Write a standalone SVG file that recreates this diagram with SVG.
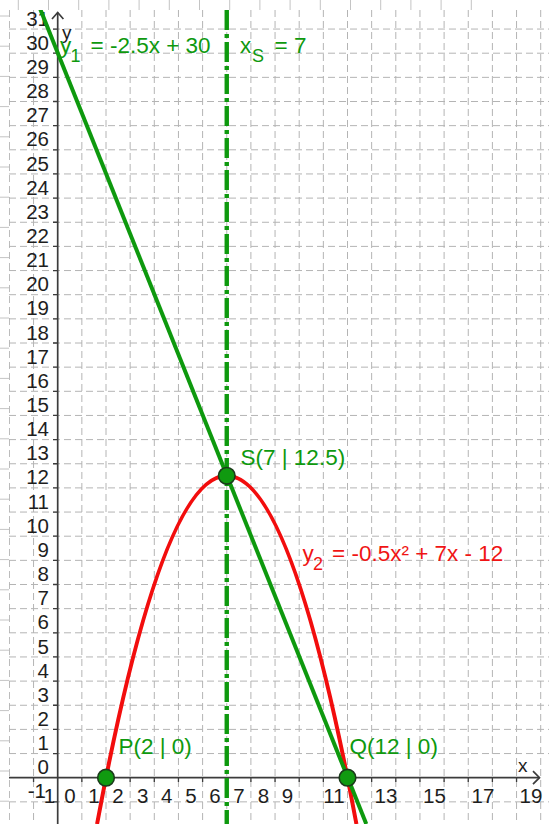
<svg xmlns="http://www.w3.org/2000/svg" width="549" height="824" viewBox="0 0 549 824">
<defs>
<style>
.bggrid{stroke:#c4c4c4;stroke-width:1;fill:none}
.grid{stroke:#b4b4b4;stroke-width:1;fill:none;stroke-dasharray:7 4}
.axis{stroke:#3c3c3c;stroke-width:1.7;fill:none}
.tick{stroke:#3c3c3c;stroke-width:1.3}
.ylab{font-family:"Liberation Sans",Arial,sans-serif;font-size:20.5px;fill:#1e1e1e;text-anchor:end}
.xlab{font-family:"Liberation Sans",Arial,sans-serif;font-size:20.5px;fill:#1e1e1e;text-anchor:middle}
.aname{font-family:"Liberation Sans",Arial,sans-serif;font-size:19px;fill:#1e1e1e}
.glab{font-family:"Liberation Sans",Arial,sans-serif;font-size:22.5px;fill:#0e990e}
.rlab{font-family:"Liberation Sans",Arial,sans-serif;font-size:22.5px;fill:#f01414}
.sub{font-size:18px}
.pt{fill:#109a10;stroke:#1b3b1b;stroke-width:1.6}
</style>
<clipPath id="area"><rect x="9" y="10" width="540" height="814"/></clipPath>
</defs>
<rect x="0" y="0" width="549" height="824" fill="#ffffff"/>
<g id="background-grid" class="bggrid">
<path d="M18.3,0V10M48.5,0V10M78.7,0V10M108.9,0V10M139.1,0V10M169.3,0V10M199.5,0V10M229.7,0V10M259.9,0V10M290.1,0V10M320.3,0V10M350.5,0V10M380.7,0V10M410.9,0V10M441.1,0V10M471.3,0V10"/>
<path d="M0,16H9M0,46.2H9M0,76.4H9M0,106.6H9M0,136.8H9M0,167H9M0,197.2H9M0,227.4H9M0,257.6H9M0,287.8H9M0,318H9M0,348.2H9M0,378.4H9M0,408.6H9M0,438.8H9M0,469H9M0,499.2H9M0,529.4H9M0,559.6H9M0,589.8H9M0,620H9M0,650.2H9M0,680.4H9M0,710.6H9M0,740.8H9M0,771H9M0,801.2H9"/>
</g>
<g id="grid" class="grid" clip-path="url(#area)">
<path d="M9.4,10V824M33.55,10V824M81.85,10V824M106,10V824M130.15,10V824M154.3,10V824M178.45,10V824M202.6,10V824M226.75,10V824M250.9,10V824M275.05,10V824M299.2,10V824M323.35,10V824M347.5,10V824M371.65,10V824M395.8,10V824M419.95,10V824M444.1,10V824M468.25,10V824M492.4,10V824M516.55,10V824M540.7,10V824"/>
<path d="M9,801.85H549M9,753.55H549M9,729.4H549M9,705.25H549M9,681.1H549M9,656.95H549M9,632.8H549M9,608.65H549M9,584.5H549M9,560.35H549M9,536.2H549M9,512.05H549M9,487.9H549M9,463.75H549M9,439.6H549M9,415.45H549M9,391.3H549M9,367.15H549M9,343H549M9,318.85H549M9,294.7H549M9,270.55H549M9,246.4H549M9,222.25H549M9,198.1H549M9,173.95H549M9,149.8H549M9,125.65H549M9,101.5H549M9,77.35H549M9,53.2H549M9,29.05H549"/>
</g>
<g id="axes">
<path class="axis" d="M9,777.7H539.5M57.7,824V12.5"/>
<path class="axis" d="M533,771.2L539.5,777.7L533,784.2M52,19L57.7,12.5L63.4,19"/>
<path class="tick" d="M33.55,777.7V782M81.85,777.7V782M106,777.7V782M130.15,777.7V782M154.3,777.7V782M178.45,777.7V782M202.6,777.7V782M226.75,777.7V782M250.9,777.7V782M275.05,777.7V782M299.2,777.7V782M323.35,777.7V782M347.5,777.7V782M371.65,777.7V782M395.8,777.7V782M419.95,777.7V782M444.1,777.7V782M468.25,777.7V782M492.4,777.7V782M516.55,777.7V782"/>
<path class="tick" d="M53,801.85H57.7M53,753.55H57.7M53,729.4H57.7M53,705.25H57.7M53,681.1H57.7M53,656.95H57.7M53,632.8H57.7M53,608.65H57.7M53,584.5H57.7M53,560.35H57.7M53,536.2H57.7M53,512.05H57.7M53,487.9H57.7M53,463.75H57.7M53,439.6H57.7M53,415.45H57.7M53,391.3H57.7M53,367.15H57.7M53,343H57.7M53,318.85H57.7M53,294.7H57.7M53,270.55H57.7M53,246.4H57.7M53,222.25H57.7M53,198.1H57.7M53,173.95H57.7M53,149.8H57.7M53,125.65H57.7M53,101.5H57.7M53,77.35H57.7M53,53.2H57.7M53,29.05H57.7"/>
</g>
<g id="y-labels" class="ylab">
<text x="49" y="25.5">31</text><text x="49" y="49.7">30</text><text x="49" y="73.9">29</text><text x="49" y="98">28</text>
<text x="49" y="122.2">27</text><text x="49" y="146.3">26</text><text x="49" y="170.5">25</text><text x="49" y="194.6">24</text>
<text x="49" y="218.8">23</text><text x="49" y="242.9">22</text><text x="49" y="267.1">21</text><text x="49" y="291.2">20</text>
<text x="49" y="315.4">19</text><text x="49" y="339.5">18</text><text x="49" y="363.7">17</text><text x="49" y="387.8">16</text>
<text x="49" y="412">15</text><text x="49" y="436.1">14</text><text x="49" y="460.3">13</text><text x="49" y="484.4">12</text>
<text x="49" y="508.6">11</text><text x="49" y="532.7">10</text><text x="49" y="556.9">9</text><text x="49" y="581">8</text>
<text x="49" y="605.2">7</text><text x="49" y="629.3">6</text><text x="49" y="653.5">5</text><text x="49" y="677.6">4</text>
<text x="49" y="701.8">3</text><text x="49" y="725.9">2</text><text x="49" y="750.1">1</text><text x="49" y="774.2">0</text>
<text x="46" y="798.4">-1</text>
</g>
<g id="x-labels" class="xlab">
<text x="46" y="803">-1</text><text x="70" y="803">0</text><text x="94" y="803">1</text><text x="118" y="803">2</text>
<text x="142.6" y="803">3</text><text x="166.8" y="803">4</text><text x="191" y="803">5</text><text x="215" y="803">6</text>
<text x="239" y="803">7</text><text x="263.4" y="803">8</text><text x="287.5" y="803">9</text><text x="334" y="803">11</text>
<text x="386" y="803">13</text><text x="434.5" y="803">15</text><text x="483" y="803">17</text><text x="531" y="803">19</text>
</g>
<g id="axis-names" class="aname">
<text x="62" y="39">y</text>
<text x="518" y="772">x</text>
</g>
<g id="curves" clip-path="url(#area)">
<path id="symmetry-axis" d="M226.75,10V824" stroke="#0e990e" stroke-width="4.4" fill="none" stroke-dasharray="20 4 4 4"/>
<path id="parabola" d="M97.07,824Q226.75,127.5 356.43,824" stroke="#f20d0d" stroke-width="4" fill="none"/>
<path id="line" d="M39.9,8.3L366.3,824" stroke="#0e990e" stroke-width="4" fill="none"/>
</g>
<g id="point-P"><circle class="pt" cx="106" cy="777.7" r="8.3"/></g>
<g id="point-Q"><circle class="pt" cx="347.5" cy="777.7" r="8.3"/></g>
<g id="point-S"><circle class="pt" cx="226.75" cy="475.8" r="8.3"/></g>
<g id="labels">
<text class="glab" x="60" y="53">y<tspan class="sub" x="70.5" y="62">1</tspan><tspan x="90.5" y="53">= -2.5x + 30</tspan></text>
<text class="glab" x="240" y="53">x<tspan class="sub" x="252" y="62">S</tspan><tspan x="274.5" y="53">= 7</tspan></text>
<text class="glab" x="240.5" y="465">S(7 | 12.5)</text>
<text class="glab" x="118.5" y="754">P(2 | 0)</text>
<text class="glab" x="349.5" y="754">Q(12 | 0)</text>
<text class="rlab" x="302.5" y="561">y<tspan class="sub" x="313" y="570">2</tspan><tspan x="332" y="561">= -0.5x² + 7x - 12</tspan></text>
</g>
</svg>
